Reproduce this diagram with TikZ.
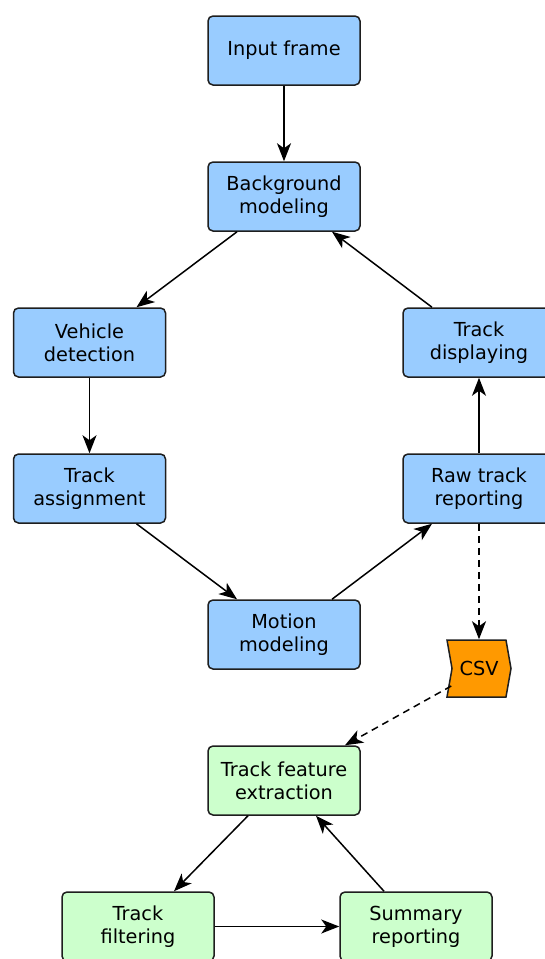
\documentclass[tikz,border=0pt]{standalone}
\usepackage{fontspec}
\setmainfont{DejaVu Sans}
\usetikzlibrary{arrows.meta,shapes.symbols}

\definecolor{stageblue}{RGB}{153,204,255}
\definecolor{stagegreen}{RGB}{204,255,204}
\definecolor{fileorange}{RGB}{255,153,0}
\definecolor{edgegray}{RGB}{30,30,30}

\begin{document}
\begin{tikzpicture}[x=1pt,y=-1pt,
  box/.style={draw=edgegray, line width=1.5pt, rounded corners=5pt,
    minimum width=152pt, minimum height=69pt, inner sep=0pt,
    align=center, font=\fontsize{19.3}{23}\selectfont},
  bluebox/.style={box, fill=stageblue},
  greenbox/.style={box, fill=stagegreen},
  filebox/.style={draw=edgegray, line width=1.5pt, fill=fileorange,
    shape=signal, signal from=west, signal to=east, signal pointer angle=160,
    minimum width=64pt, minimum height=57pt, inner sep=0pt,
    font=\fontsize{19.3}{23}\selectfont},
  link/.style={-{Stealth[length=18pt,width=14pt,inset=5pt]}, line width=1.5pt, draw=black},
  dlink/.style={link, dash pattern=on 7pt off 5pt}
]
\useasboundingbox (0,0) rectangle (545,959);

% processing pipeline
\node[bluebox] (input) at (284,50.5) {Input frame};
\node[bluebox] (bg)    at (284,196.5) {Background\\modeling};
\node[bluebox] (veh)   at (89.5,342.5) {Vehicle\\detection};
\node[bluebox] (disp)  at (479,342.5) {Track\\displaying};
\node[bluebox] (assign) at (89.5,488.5) {Track\\assignment};
\node[bluebox] (raw)   at (479,488.5) {Raw track\\reporting};
\node[bluebox] (motion) at (284,634.5) {Motion\\modeling};

% exported file
\node[filebox] (csv) at (479,668.5) {CSV};

% analysis stages
\node[greenbox] (feat) at (284,780.5) {Track feature\\extraction};
\node[greenbox] (filt) at (138,926.5) {Track\\filtering};
\node[greenbox] (summ) at (416,926.5) {Summary\\reporting};

% connectors
\draw[link] (input) -- (bg);
\draw[link] ([xshift=-47pt]bg.south) -- ([xshift=47pt]veh.north);
\draw[link] (veh) -- (assign);
\draw[link] ([xshift=47pt]assign.south) -- ([xshift=-47pt]motion.north);
\draw[link] ([xshift=48pt]motion.north) -- ([xshift=-47pt]raw.south);
\draw[link] (raw) -- (disp);
\draw[link] ([xshift=-47pt]disp.north) -- ([xshift=48pt]bg.south);
\draw[dlink] (raw) -- (csv);
\draw[dlink] ([yshift=-17.5pt]csv.west) -- ([xshift=61pt]feat.north);
\draw[link] ([xshift=-36pt]feat.south) -- ([xshift=36pt]filt.north);
\draw[link] (filt) -- (summ);
\draw[link] ([xshift=-32pt]summ.north) -- ([xshift=32pt]feat.south);
\end{tikzpicture}
\end{document}
